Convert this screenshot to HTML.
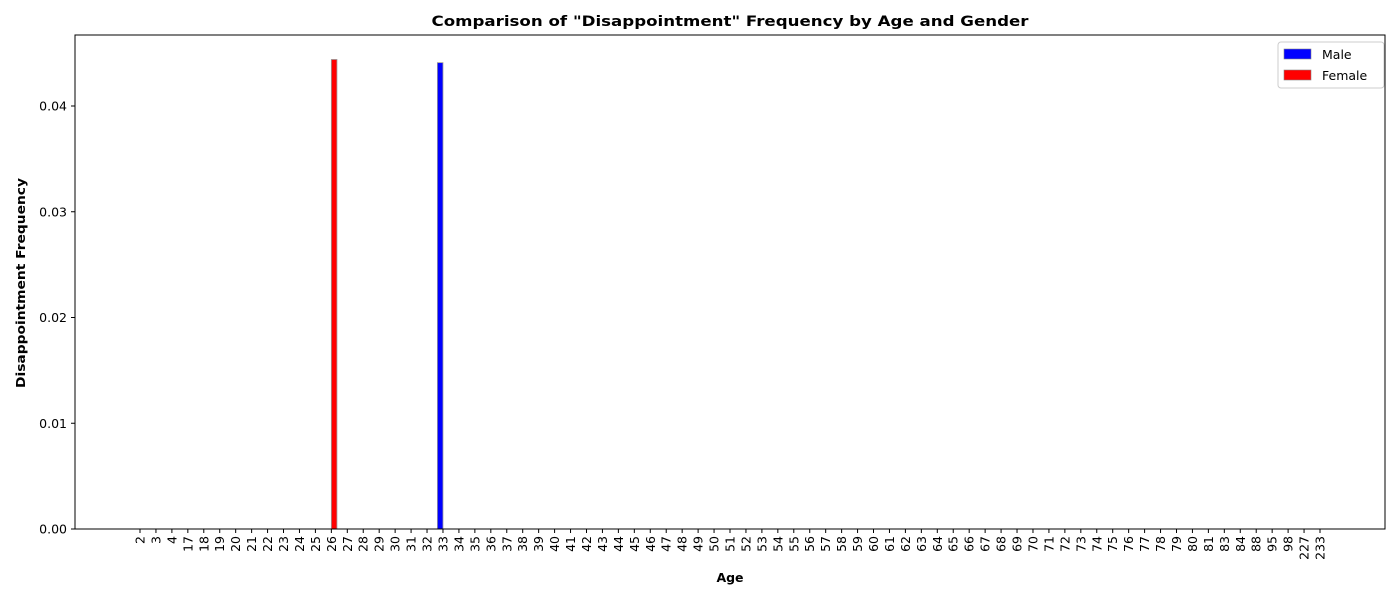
<!DOCTYPE html>
<html><head><meta charset="utf-8"><style>
body{margin:0;background:#fff;font-family:"DejaVu Sans",sans-serif}
</style></head><body>
<svg id="chart" width="1400" height="600" xmlns="http://www.w3.org/2000/svg" font-family="DejaVu Sans, sans-serif">
<text x="730" y="26" text-anchor="middle" font-size="14" font-weight="bold" textLength="597" lengthAdjust="spacingAndGlyphs">Comparison of "Disappointment" Frequency by Age and Gender</text>
<g id="plot"></g>
<rect x="75" y="35" width="1310" height="494" fill="none" stroke="#000" stroke-width="1"/>
<text x="730" y="582" text-anchor="middle" font-size="12.5" font-weight="bold">Age</text>
<text transform="translate(25,283) rotate(-90)" text-anchor="middle" font-size="12.5" font-weight="bold" textLength="210" lengthAdjust="spacingAndGlyphs">Disappointment Frequency</text>
<g>
<rect x="1278" y="42" width="106" height="46" fill="#fff" stroke="#ccc" rx="3"/>
<g><rect x="1284" y="49" width="27" height="10" fill="#0000ff" stroke="#888" stroke-width="0.6"/><text x="1322" y="59" font-size="12.5">Male</text></g>
<g><rect x="1284" y="70" width="27" height="10" fill="#ff0000" stroke="#888" stroke-width="0.6"/><text x="1322" y="80" font-size="12.5">Female</text></g>
</g>
</svg>
<script>
const ages=[2,3,4,17,18,19,20,21,22,23,24,25,26,27,28,29,30,31,32,33,34,35,36,37,38,39,40,41,42,43,44,45,46,47,48,49,50,51,52,53,54,55,56,57,58,59,60,61,62,63,64,65,66,67,68,69,70,71,72,73,74,75,76,77,78,79,80,81,83,84,88,95,98,227,233];
const maleNonZero={33:0.0441};
const femaleNonZero={26:0.0444};
const yTicks=[0,0.01,0.02,0.03,0.04];
const maleValues=ages.map(a=>maleNonZero[a]||0);
const femaleValues=ages.map(a=>femaleNonZero[a]||0);
const NS="http://www.w3.org/2000/svg";
const g=document.getElementById('plot');
const x0=140,x1=1320,step=(x1-x0)/(ages.length-1);
const xs=i=>x0+i*step;
const ys=v=>529-v*10575;
const bw=step*0.35;
function mk(t,attrs){const e=document.createElementNS(NS,t);for(const k in attrs)e.setAttribute(k,attrs[k]);g.appendChild(e);return e;}
yTicks.forEach(v=>{
  const y=ys(v);
  const l=mk('line',{x1:71,x2:75,y1:y,y2:y,stroke:'#000'});
  
  
  const t=mk('text',{x:67,y:y+4.5,'text-anchor':'end','font-size':12.5});
  t.textContent=v.toFixed(2);
  
  
});
ages.forEach((a,i)=>{
  const x=xs(i);
  const l=mk('line',{x1:x,x2:x,y1:529,y2:533,stroke:'#000'});
  
  
  const t=mk('text',{transform:`translate(${x+4.5},536) rotate(-90)`,'text-anchor':'end','font-size':12.5});
  t.textContent=a;
  
  
  if(maleValues[i]>0){
    const r=mk('rect',{x:x-bw,y:ys(maleValues[i]),width:bw,height:529-ys(maleValues[i]),fill:'#0000ff',stroke:'#999','stroke-width':0.8});
    
    
  }
  if(femaleValues[i]>0){
    const r=mk('rect',{x:x,y:ys(femaleValues[i]),width:bw,height:529-ys(femaleValues[i]),fill:'#ff0000',stroke:'#999','stroke-width':0.8});
    
    
  }
});
</script>
</body></html>
